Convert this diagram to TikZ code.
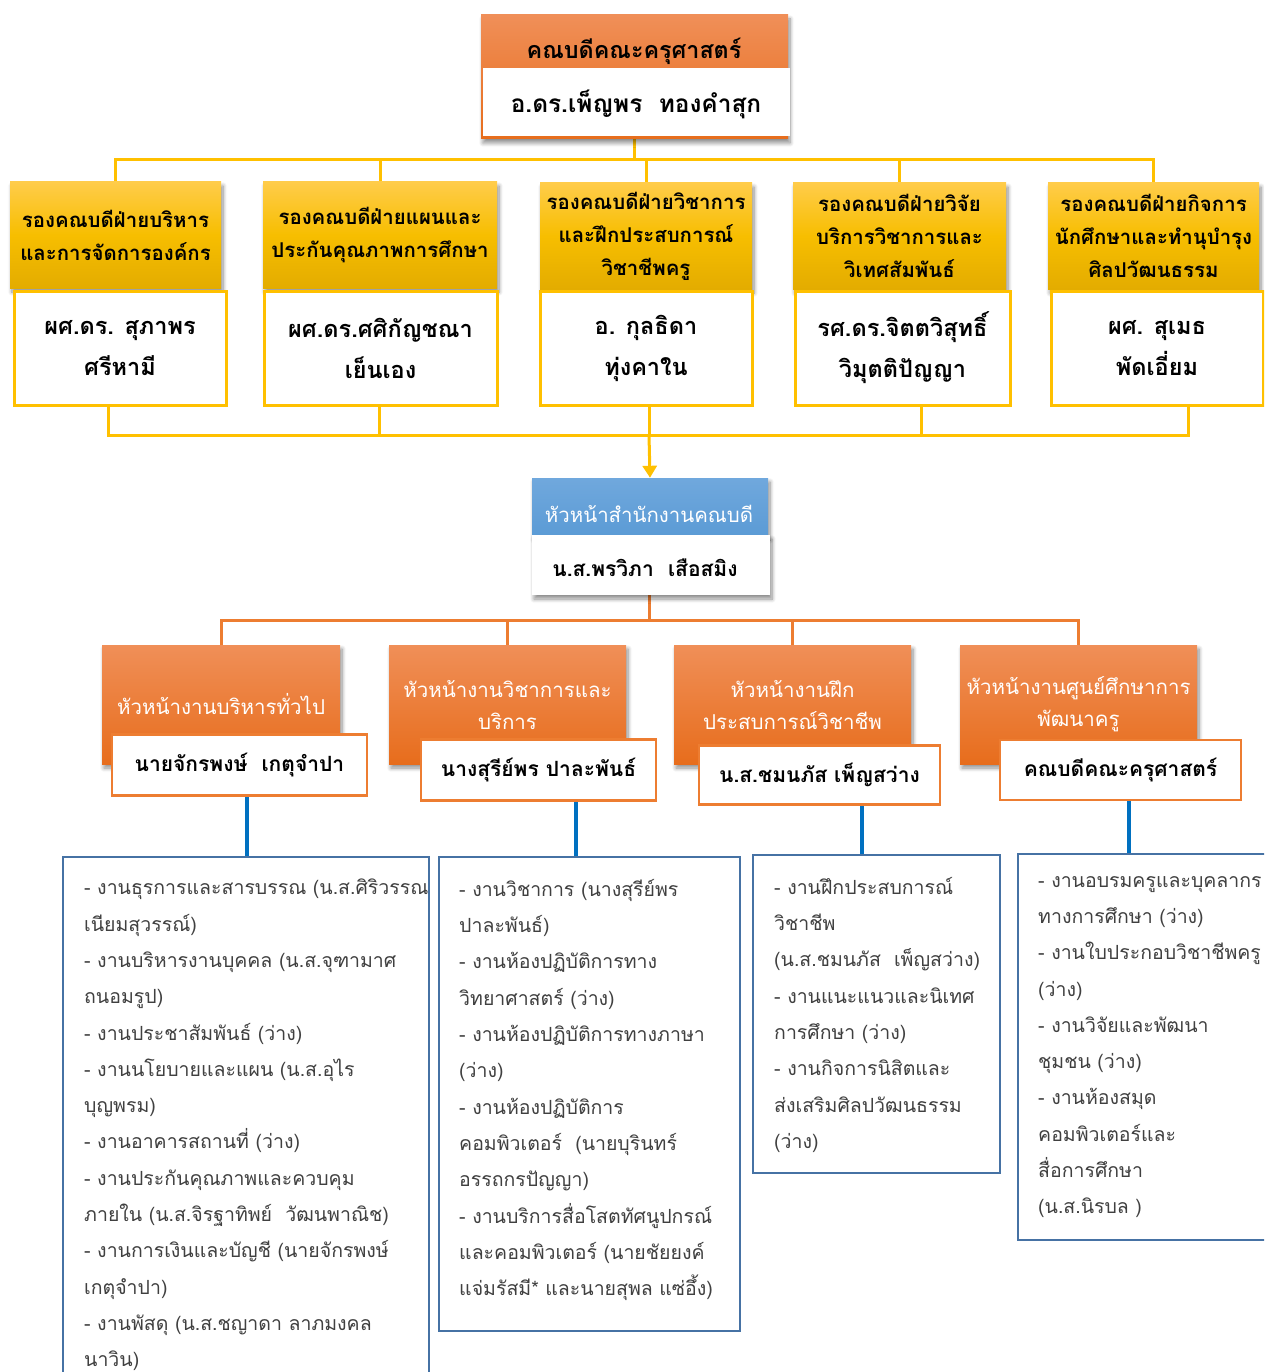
\documentclass[tikz,border=0pt]{standalone}
\usepackage{fontspec}
\setmainfont[Script=Thai]{Loma}
\usetikzlibrary{shadows,shadows.blur,arrows.meta,calc,backgrounds}
\definecolor{goldline}{HTML}{FFC000}
\definecolor{goldtop}{HTML}{FFCC4A}
\definecolor{goldmid}{HTML}{F7BE00}
\definecolor{goldbot}{HTML}{E3AC00}
\definecolor{orline}{HTML}{ED7D31}
\definecolor{ortop}{HTML}{F08F58}
\definecolor{orbot}{HTML}{E76D1C}
\definecolor{bltop}{HTML}{70A8DD}
\definecolor{blbot}{HTML}{5B9BD5}
\definecolor{blconn}{HTML}{0070C0}
\definecolor{listbd}{HTML}{4672A4}
\definecolor{listtx}{HTML}{404040}
\begin{document}
\begin{tikzpicture}[x=1pt,y=-1pt,
  shad/.style={blur shadow={shadow xshift=2pt,shadow yshift=-4pt,shadow blur radius=4pt,shadow blur steps=8,shadow opacity=45}},
  goldhead/.style={shad,top color=goldtop,bottom color=goldbot,middle color=goldmid,draw=none,align=center,inner sep=0pt,font=\fontsize{20.4}{33}\selectfont\bfseries},
  goldname/.style={fill=white,draw=goldline,line width=3pt,align=center,inner sep=0pt,font=\fontsize{23.5}{41}\selectfont\bfseries},
  orhead/.style={shad,top color=ortop,bottom color=orbot,draw=none,align=center,inner sep=0pt,text=white,font=\fontsize{20.5}{32}\selectfont},
  orname/.style={fill=white,draw=orline,line width=2.5pt,align=center,inner sep=0pt,font=\fontsize{21}{30}\selectfont\bfseries},
  listbox/.style={draw=listbd,line width=2.5pt,fill=white},
  listtext/.style={anchor=north west,align=left,inner sep=0pt,text=listtx,font=\fontsize{19.5}{36.3}\selectfont},
  gline/.style={draw=goldline,line width=3pt},
  oline/.style={draw=orline,line width=3pt},
  bline/.style={draw=blconn,line width=3.5pt}]
\useasboundingbox (0,0) rectangle (1264,1372);
\clip (0,0) rectangle (1264,1372);

% ---- top box
\node[shad,top color=ortop,bottom color=orbot,draw=none,minimum width=307pt,minimum height=124pt,inner sep=0pt] (dean) at (634.5,77) {};
\node[fill=white,minimum width=307pt,minimum height=68pt,inner sep=0pt] (deanw) at (636.5,102) {};
\node[font=\fontsize{23.3}{26}\selectfont\bfseries,inner sep=0pt] (deant) at (634,51) {คณบดีคณะครุศาสตร์};
\node[font=\fontsize{24.4}{26}\selectfont\bfseries,inner sep=0pt] (deann) at (636,104) {อ.ดร.เพ็ญพร\ \ ทองคำสุก};

% ---- vice deans
\node[goldhead,minimum width=211pt,minimum height=106pt] (h1) at (115.5,235) {รองคณบดีฝ่ายบริหาร\\และการจัดการองค์กร};
\node[goldhead,minimum width=234pt,minimum height=106pt] (h2) at (380,235) {รองคณบดีฝ่ายแผนและ\\ประกันคุณภาพการศึกษา};
\node[goldhead,minimum width=212pt,minimum height=106pt] (h3) at (646,236) {รองคณบดีฝ่ายวิชาการ\\และฝึกประสบการณ์\\วิชาชีพครู};
\node[goldhead,minimum width=213pt,minimum height=106pt] (h4) at (899.5,236) {รองคณบดีฝ่ายวิจัย\\บริการวิชาการและ\\วิเทศสัมพันธ์};
\node[goldhead,minimum width=211pt,minimum height=106pt] (h5) at (1153.5,236) {รองคณบดีฝ่ายกิจการ\\นักศึกษาและทำนุบำรุง\\ศิลปวัฒนธรรม};

\node[goldname,minimum width=212pt,minimum height=114pt] (n1) at (120,348) {ผศ.ดร. สุภาพร\\ศรีหามี};
\node[goldname,minimum width=233pt,minimum height=114pt] (n2) at (380.5,348) {ผศ.ดร.ศศิกัญชณา\\เย็นเอง};
\node[goldname,minimum width=212pt,minimum height=114pt] (n3) at (646,348) {อ. กุลธิดา\\ทุ่งคาใน};
\node[goldname,minimum width=215pt,minimum height=114pt] (n4) at (902.5,348) {รศ.ดร.จิตตวิสุทธิ์\\วิมุตติปัญญา};
\node[goldname,minimum width=212pt,minimum height=114pt] (n5) at (1157,348) {ผศ. สุเมธ\\พัดเอี่ยม};

% ---- office
\node[shad,top color=bltop,bottom color=blbot,draw=none,minimum width=236pt,minimum height=58pt,inner sep=0pt] (office) at (650,507) {};
\node[shad,fill=white,minimum width=238pt,minimum height=60pt,inner sep=0pt] (officen) at (651,565) {};
\node[inner sep=0pt,text=white,font=\fontsize{20.4}{24}\selectfont] (officet) at (649,514) {หัวหน้าสำนักงานคณบดี};
\node[inner sep=0pt,font=\fontsize{21}{24}\selectfont\bfseries] (officenn) at (645,568) {น.ส.พรวิภา\ \ เสือสมิง};

% ---- heads
\node[orhead,minimum width=238pt,minimum height=119pt] (o1) at (221,704.5) {หัวหน้างานบริหารทั่วไป};
\node[orhead,minimum width=237pt,minimum height=119pt] (o2) at (507.5,704.5) {หัวหน้างานวิชาการและ\\บริการ};
\node[orhead,minimum width=237pt,minimum height=119pt] (o3) at (792.5,704.5) {หัวหน้างานฝึก\\ประสบการณ์วิชาชีพ};
\node[orhead,minimum width=237pt,minimum height=119pt] (o4) at (1078.5,704.5) {หัวหน้างานศูนย์ศึกษาการ\\พัฒนาครู};

\node[orname,minimum width=255pt,minimum height=61pt] (m1) at (239.5,765) {นายจักรพงษ์\ \ เกตุจำปา};
\node[orname,minimum width=235pt,minimum height=61pt] (m2) at (538.5,770) {นางสุรีย์พร ปาละพันธ์};
\node[orname,minimum width=241pt,minimum height=59pt] (m3) at (819.5,775) {น.ส.ชมนภัส เพ็ญสว่าง};
\node[orname,minimum width=241pt,minimum height=60pt] (m4) at (1120.5,770) {คณบดีคณะครุศาสตร์};

% ---- lists
\node[listbox,minimum width=366pt,minimum height=540pt] (l1) at (246,1127) {};
\node[listbox,minimum width=301pt,minimum height=474pt] (l2) at (589.5,1094) {};
\node[listbox,minimum width=247pt,minimum height=318pt] (l3) at (876.5,1014) {};
\node[listbox,minimum width=262pt,minimum height=386pt] (l4) at (1149,1047) {};

\node[listtext] (t1) at (84,879) {- งานธุรการและสารบรรณ (น.ส.ศิริวรรณ\\เนียมสุวรรณ์)\\- งานบริหารงานบุคคล (น.ส.จุฑามาศ\\ถนอมรูป)\\- งานประชาสัมพันธ์ (ว่าง)\\- งานนโยบายและแผน (น.ส.อุไร\\บุญพรม)\\- งานอาคารสถานที่ (ว่าง)\\- งานประกันคุณภาพและควบคุม\\ภายใน (น.ส.จิรฐาทิพย์\ \ วัฒนพาณิช)\\- งานการเงินและบัญชี (นายจักรพงษ์\\เกตุจำปา)\\- งานพัสดุ (น.ส.ชญาดา ลาภมงคล\\นาวิน)};
\node[listtext] (t2) at (459,879) {- งานวิชาการ (นางสุรีย์พร\\ปาละพันธ์)\\- งานห้องปฏิบัติการทาง\\วิทยาศาสตร์ (ว่าง)\\- งานห้องปฏิบัติการทางภาษา\\(ว่าง)\\- งานห้องปฏิบัติการ\\คอมพิวเตอร์\ \ (นายบุรินทร์\\อรรถกรปัญญา)\\- งานบริการสื่อโสตทัศนูปกรณ์\\และคอมพิวเตอร์ (นายชัยยงค์\\แจ่มรัสมี* และนายสุพล แซ่อึ้ง)};
\node[listtext] (t3) at (774,877) {- งานฝึกประสบการณ์\\วิชาชีพ\\(น.ส.ชมนภัส\ \ เพ็ญสว่าง)\\- งานแนะแนวและนิเทศ\\การศึกษา (ว่าง)\\- งานกิจการนิสิตและ\\ส่งเสริมศิลปวัฒนธรรม\\(ว่าง)};
\node[listtext] (t4) at (1038,876) {- งานอบรมครูและบุคลากร\\ทางการศึกษา (ว่าง)\\- งานใบประกอบวิชาชีพครู\\(ว่าง)\\- งานวิจัยและพัฒนา\\ชุมชน (ว่าง)\\- งานห้องสมุด\\คอมพิวเตอร์และ\\สื่อการศึกษา\\(น.ส.นิรบล )};

% ---- connectors
\coordinate (tbus) at (634.5,160);
\coordinate (bb1) at (108,435);
\coordinate (bb2) at (379,435);
\coordinate (bb3) at (649,435);
\coordinate (bb4) at (921,435);
\coordinate (bb5) at (1188,435);
\coordinate (obus) at (649,620);
\coordinate (c1) at (247,0);
\coordinate (c2) at (576,0);
\coordinate (c3) at (862,0);
\coordinate (c4) at (1129,0);
\begin{scope}[on background layer]
\draw[gline] (dean.south) -- (tbus);
\draw[gline] (h1.north) |- (tbus) -| (h5.north);
\draw[gline] (h2.north) -- (h2.north |- tbus);
\draw[gline] (h3.north) -- (h3.north |- tbus);
\draw[gline] (h4.north) -- (h4.north |- tbus);
\draw[gline] (bb1 |- n1.south) -- (bb1) -- (bb5) -- (bb5 |- n5.south);
\draw[gline] (bb2 |- n2.south) -- (bb2);
\draw[gline] (bb3 |- n3.south) -- (bb3);
\draw[gline] (bb4 |- n4.south) -- (bb4);
\draw[gline,-{Triangle[width=14pt,length=12pt]}] (bb3) -- (office.north);
\draw[oline] (obus |- officen.south) -- (obus);
\draw[oline] (o1.north) |- (obus) -| (o4.north);
\draw[oline] (o2.north) -- (o2.north |- obus);
\draw[oline] (o3.north) -- (o3.north |- obus);
\draw[bline] (m1.south -| c1) -- (l1.north -| c1);
\draw[bline] (m2.south -| c2) -- (l2.north -| c2);
\draw[bline] (m3.south -| c3) -- (l3.north -| c3);
\draw[bline] (m4.south -| c4) -- (l4.north -| c4);
\end{scope}
\end{tikzpicture}
\end{document}
